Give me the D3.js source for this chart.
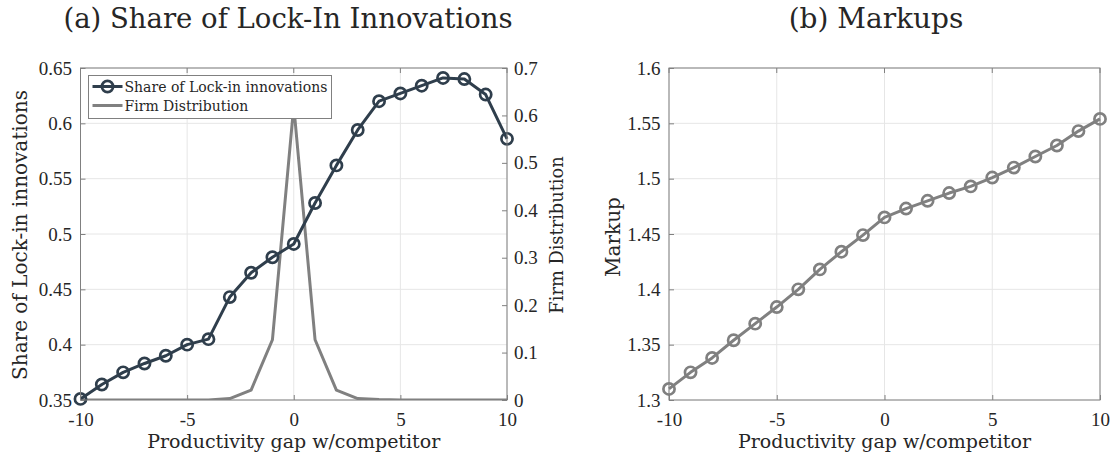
<!DOCTYPE html>
<html>
<head>
<meta charset="utf-8">
<script src="https://cdn.jsdelivr.net/npm/d3@7"></script>
<style>
  body { margin: 0; background: #fff; }
  svg { display: block; }
  text { font-family: "DejaVu Serif", serif; fill: #262626; }
</style>
</head>
<body>
<svg width="1119" height="461"></svg>
<script>
// x positions (productivity gap)
var gaps = [-10,-9,-8,-7,-6,-5,-4,-3,-2,-1,0,1,2,3,4,5,6,7,8,9,10];
// panel (a)
var lockShare = [0.351,0.364,0.375,0.383,0.390,0.400,0.405,0.443,0.465,0.479,0.491,0.528,0.562,0.594,0.620,0.627,0.634,0.641,0.640,0.626,0.586];
var firmDist  = [0,0,0,0,0,0,0,0.003,0.021,0.127,0.62,0.127,0.021,0.003,0.001,0,0,0,0,0,0];
// panel (b)
var markup = [1.310,1.325,1.338,1.354,1.369,1.384,1.400,1.418,1.434,1.449,1.465,1.473,1.480,1.487,1.493,1.501,1.510,1.520,1.530,1.543,1.554];

var xTicks = [-10,-5,0,5,10];
var leftTicks = [0.35,0.4,0.45,0.5,0.55,0.6,0.65];
var rightTicks = [0,0.1,0.2,0.3,0.4,0.5,0.6,0.7];
var markupTicks = [1.3,1.35,1.4,1.45,1.5,1.55,1.6];

var darkCol = "#2f3e4c";
var grayCol = "#808080";
var svg = d3.select("svg");

function fmt(v){ return String(+v.toFixed(2)); }

function styleAxis(a){
  a.select(".domain").remove();
  a.selectAll("line").attr("stroke",grayCol);
  a.selectAll("text").style("font-size","19px").style("font-family","'Liberation Serif', serif").style("fill","#262626");
}

function panel(left, right, top, bottom, yDom, yTicks){
  var x = d3.scaleLinear().domain([-10,10]).range([left,right]);
  var y = d3.scaleLinear().domain(yDom).range([bottom,top]);
  var g = svg.append("g");
  // grid
  g.selectAll(".gx").data(xTicks).enter().append("line")
    .attr("x1",d=>x(d)).attr("x2",d=>x(d)).attr("y1",top).attr("y2",bottom)
    .attr("stroke","#e6e6e6").attr("stroke-width",1);
  g.selectAll(".gy").data(yTicks).enter().append("line")
    .attr("x1",left).attr("x2",right).attr("y1",d=>y(d)).attr("y2",d=>y(d))
    .attr("stroke","#e6e6e6").attr("stroke-width",1);
  var xa = g.append("g").attr("transform","translate(0,"+bottom+")")
    .call(d3.axisBottom(x).tickValues(xTicks).tickSize(-5).tickPadding(13).tickFormat(d=>String(d)));
  styleAxis(xa);
  var ya = g.append("g").attr("transform","translate("+left+",0)")
    .call(d3.axisLeft(y).tickValues(yTicks).tickSize(-5).tickPadding(8.5).tickFormat(fmt));
  styleAxis(ya);
  // top ticks
  g.selectAll(".tt").data(xTicks).enter().append("line")
    .attr("x1",d=>x(d)).attr("x2",d=>x(d)).attr("y1",top).attr("y2",top+5)
    .attr("stroke",grayCol);
  return {x:x,y:y,g:g};
}

function box(l,r,t,b){
  svg.append("rect").attr("x",l).attr("y",t).attr("width",r-l).attr("height",b-t)
    .attr("fill","none").attr("stroke",grayCol).attr("stroke-width",1);
}

function markers(g, xs, ys, col){
  g.selectAll(null).data(gaps).enter().append("circle")
    .attr("cx",(d)=>xs(d)).attr("cy",(d,i)=>ys[i])
    .attr("r",5.6).attr("fill","none").attr("stroke",col).attr("stroke-width",2.7);
}

// ---------- panel (a)
var L = 80.5, R = 507, T = 68, B = 400;
var pa = panel(L,R,T,B,[0.35,0.65],leftTicks);
var y2 = d3.scaleLinear().domain([0,0.7]).range([B,T]);
var ra = pa.g.append("g").attr("transform","translate("+R+",0)")
  .call(d3.axisRight(y2).tickValues(rightTicks).tickSize(-5).tickPadding(7).tickFormat(fmt));
styleAxis(ra);

svg.append("clipPath").attr("id","clipA").append("rect")
  .attr("x",L).attr("y",T).attr("width",R-L).attr("height",B-T);

var lineF = d3.line().x((d,i)=>pa.x(gaps[i])).y(d=>y2(d));
pa.g.append("path").attr("d",lineF(firmDist)).attr("fill","none")
  .attr("stroke",grayCol).attr("stroke-width",3).attr("stroke-linejoin","round")
  .attr("clip-path","url(#clipA)");

var lineS = d3.line().x((d,i)=>pa.x(gaps[i])).y(d=>pa.y(d));
pa.g.append("path").attr("d",lineS(lockShare)).attr("fill","none")
  .attr("stroke",darkCol).attr("stroke-width",3).attr("stroke-linejoin","round");
markers(pa.g, pa.x, lockShare.map(v=>pa.y(v)), darkCol);
box(L,R,T,B);

// legend
var lg = svg.append("g").attr("transform","translate(88.5,75.5)");
lg.append("rect").attr("width",243).attr("height",43).attr("fill","#fff").attr("stroke",grayCol).attr("stroke-width",1);
lg.append("line").attr("x1",4).attr("x2",34).attr("y1",11).attr("y2",11).attr("stroke",darkCol).attr("stroke-width",3);
lg.append("circle").attr("cx",19).attr("cy",11).attr("r",5.6).attr("fill","none").attr("stroke",darkCol).attr("stroke-width",2.7);
lg.append("line").attr("x1",4).attr("x2",34).attr("y1",30).attr("y2",30).attr("stroke",grayCol).attr("stroke-width",3);
lg.append("text").attr("x",36).attr("y",16).style("font-size","14px").text("Share of Lock-in innovations");
lg.append("text").attr("x",36).attr("y",35).style("font-size","14px").text("Firm Distribution");

// labels
svg.append("text").attr("x",(L+R)/2).attr("y",448).attr("text-anchor","middle").style("font-size","19px")
  .text("Productivity gap w/competitor");
svg.append("text").attr("transform","translate(27,235) rotate(-90)").attr("text-anchor","middle").style("font-size","20px")
  .text("Share of Lock-in innovations");
svg.append("text").attr("transform","translate(563,235) rotate(-90)").attr("text-anchor","middle").style("font-size","17.8px")
  .text("Firm Distribution");
svg.append("text").attr("x",288).attr("y",28).attr("text-anchor","middle").style("font-size","27.5px")
  .text("(a) Share of Lock-In Innovations");

// ---------- panel (b)
var L2 = 669, R2 = 1100;
var pb = panel(L2,R2,T,B,[1.3,1.6],markupTicks);
var lineM = d3.line().x((d,i)=>pb.x(gaps[i])).y(d=>pb.y(d));
pb.g.append("path").attr("d",lineM(markup)).attr("fill","none")
  .attr("stroke",grayCol).attr("stroke-width",3).attr("stroke-linejoin","round");
markers(pb.g, pb.x, markup.map(v=>pb.y(v)), grayCol);
box(L2,R2,T,B);

svg.append("text").attr("x",(L2+R2)/2).attr("y",448).attr("text-anchor","middle").style("font-size","19px")
  .text("Productivity gap w/competitor");
svg.append("text").attr("transform","translate(620,237) rotate(-90)").attr("text-anchor","middle").style("font-size","20px")
  .text("Markup");
svg.append("text").attr("x",876).attr("y",28).attr("text-anchor","middle").style("font-size","28px")
  .text("(b) Markups");
</script>
</body>
</html>
